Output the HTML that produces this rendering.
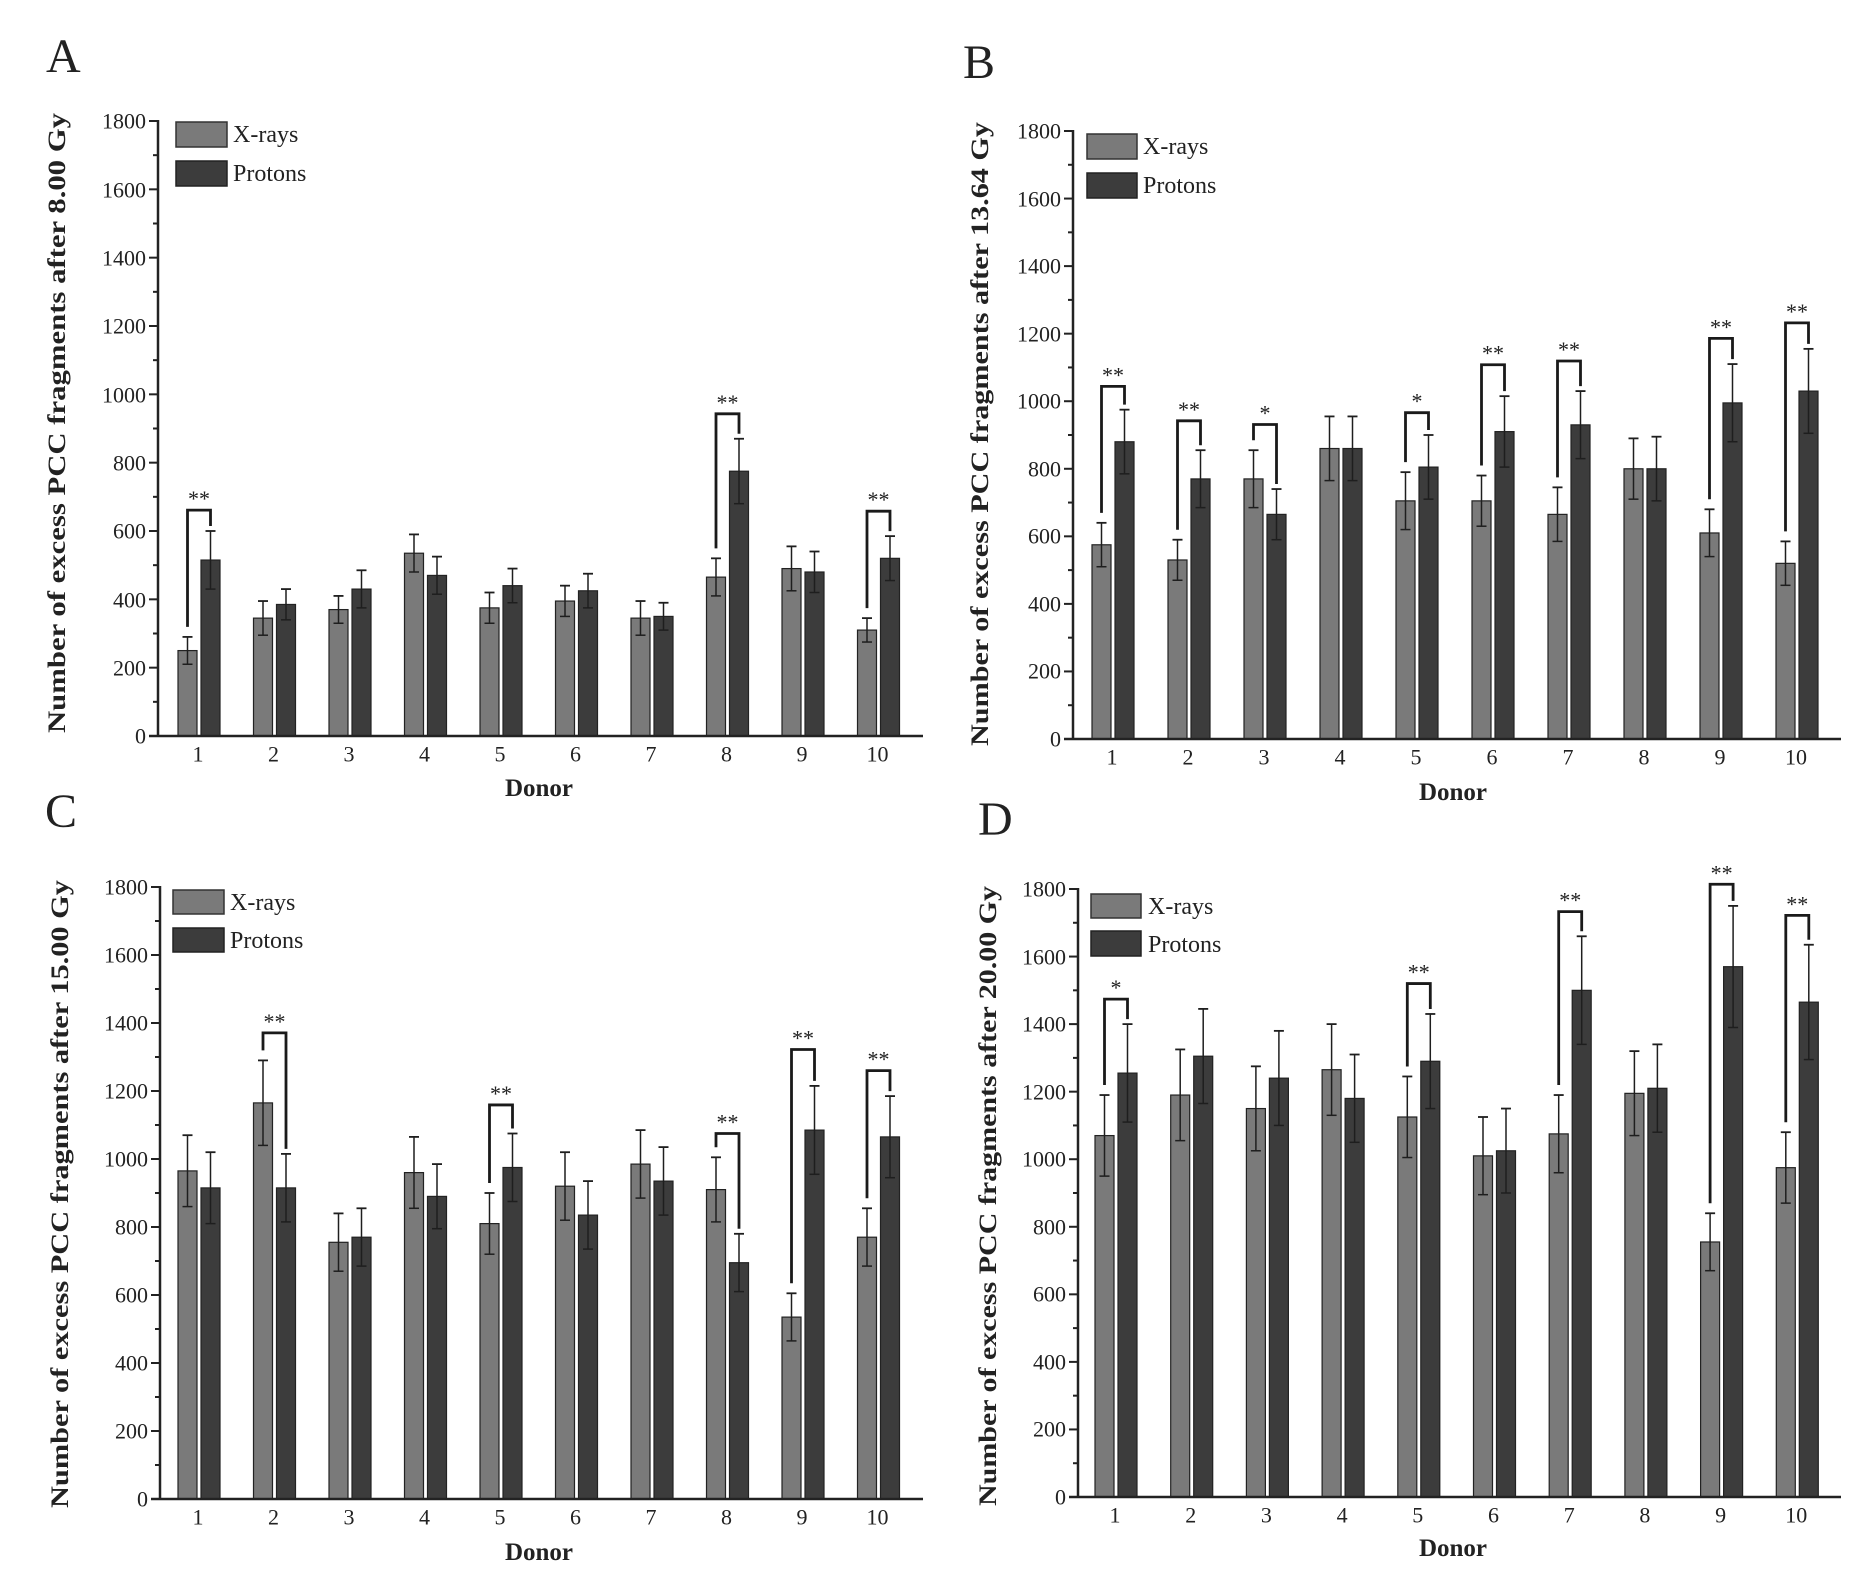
<!DOCTYPE html>
<html><head><meta charset="utf-8"><style>
html,body{margin:0;padding:0;background:#fff}
svg{display:block}
text{font-family:"Liberation Serif",serif;fill:#222}
.t{font-size:22px}
.lab{font-size:25px;font-weight:bold}
.ttl{font-size:48px}
.lg{font-size:24px}
</style></head><body>
<svg id="s" width="1869" height="1591" viewBox="0 0 1869 1591" xmlns="http://www.w3.org/2000/svg">
<g id="g"></g>
<text class="ttl" x="46" y="72">A</text>
<text class="ttl" x="963" y="78">B</text>
<text class="ttl" x="45" y="827">C</text>
<text class="ttl" x="978" y="835">D</text>
<text class="lab" transform="translate(65,423) rotate(-90)" text-anchor="middle" textLength="620" lengthAdjust="spacingAndGlyphs">Number of excess PCC fragments after 8.00 Gy</text>
<text class="lab" transform="translate(988,434) rotate(-90)" text-anchor="middle" textLength="624" lengthAdjust="spacingAndGlyphs">Number of excess PCC fragments after 13.64 Gy</text>
<text class="lab" transform="translate(68,1194) rotate(-90)" text-anchor="middle" textLength="628" lengthAdjust="spacingAndGlyphs">Number of excess PCC fragments after 15.00 Gy</text>
<text class="lab" transform="translate(996,1196) rotate(-90)" text-anchor="middle" textLength="620" lengthAdjust="spacingAndGlyphs">Number of excess PCC fragments after 20.00 Gy</text>
<text class="lab" x="539" y="796" text-anchor="middle">Donor</text>
<text class="lab" x="1453" y="800" text-anchor="middle">Donor</text>
<text class="lab" x="539" y="1560" text-anchor="middle">Donor</text>
<text class="lab" x="1453" y="1556" text-anchor="middle">Donor</text>
<rect x="176" y="122" width="51" height="25" fill="#7a7a7a" stroke="#333" stroke-width="1.5"/>
<rect x="176" y="161" width="51" height="25" fill="#3c3c3c" stroke="#222" stroke-width="1.5"/>
<text class="lg" x="233" y="142">X-rays</text><text class="lg" x="233" y="181">Protons</text>
<rect x="1087" y="134" width="50" height="25" fill="#7a7a7a" stroke="#333" stroke-width="1.5"/>
<rect x="1087" y="173" width="50" height="25" fill="#3c3c3c" stroke="#222" stroke-width="1.5"/>
<text class="lg" x="1143" y="154">X-rays</text><text class="lg" x="1143" y="193">Protons</text>
<rect x="173" y="890" width="51" height="24" fill="#7a7a7a" stroke="#333" stroke-width="1.5"/>
<rect x="173" y="928" width="51" height="24" fill="#3c3c3c" stroke="#222" stroke-width="1.5"/>
<text class="lg" x="230" y="910">X-rays</text><text class="lg" x="230" y="948">Protons</text>
<rect x="1091" y="894" width="50" height="24" fill="#7a7a7a" stroke="#333" stroke-width="1.5"/>
<rect x="1091" y="931" width="50" height="25" fill="#3c3c3c" stroke="#222" stroke-width="1.5"/>
<text class="lg" x="1148" y="914">X-rays</text><text class="lg" x="1148" y="952">Protons</text>
<g class="t" text-anchor="end" dominant-baseline="central">
<text x="146" y="736">0</text><text x="146" y="668">200</text><text x="146" y="600">400</text><text x="146" y="531">600</text><text x="146" y="463">800</text><text x="146" y="395">1000</text><text x="146" y="326">1200</text><text x="146" y="258">1400</text><text x="146" y="190">1600</text><text x="146" y="121">1800</text>
<text x="1061" y="739">0</text><text x="1061" y="671">200</text><text x="1061" y="604">400</text><text x="1061" y="536">600</text><text x="1061" y="469">800</text><text x="1061" y="401">1000</text><text x="1061" y="334">1200</text><text x="1061" y="266">1400</text><text x="1061" y="199">1600</text><text x="1061" y="131">1800</text>
<text x="148" y="1499">0</text><text x="148" y="1431">200</text><text x="148" y="1363">400</text><text x="148" y="1295">600</text><text x="148" y="1227">800</text><text x="148" y="1159">1000</text><text x="148" y="1091">1200</text><text x="148" y="1023">1400</text><text x="148" y="955">1600</text><text x="148" y="887">1800</text>
<text x="1066" y="1497">0</text><text x="1066" y="1429">200</text><text x="1066" y="1362">400</text><text x="1066" y="1294">600</text><text x="1066" y="1227">800</text><text x="1066" y="1159">1000</text><text x="1066" y="1092">1200</text><text x="1066" y="1024">1400</text><text x="1066" y="957">1600</text><text x="1066" y="889">1800</text>
</g>
<g class="t" text-anchor="middle" dominant-baseline="central">
<text x="198" y="754">1</text><text x="273.5" y="754">2</text><text x="349" y="754">3</text><text x="424.5" y="754">4</text><text x="500" y="754">5</text><text x="575.5" y="754">6</text><text x="651" y="754">7</text><text x="726.5" y="754">8</text><text x="802" y="754">9</text><text x="877.5" y="754">10</text>
<text x="1112" y="757">1</text><text x="1188" y="757">2</text><text x="1264" y="757">3</text><text x="1340" y="757">4</text><text x="1416" y="757">5</text><text x="1492" y="757">6</text><text x="1568" y="757">7</text><text x="1644" y="757">8</text><text x="1720" y="757">9</text><text x="1796" y="757">10</text>
<text x="198" y="1517">1</text><text x="273.5" y="1517">2</text><text x="349" y="1517">3</text><text x="424.5" y="1517">4</text><text x="500" y="1517">5</text><text x="575.5" y="1517">6</text><text x="651" y="1517">7</text><text x="726.5" y="1517">8</text><text x="802" y="1517">9</text><text x="877.5" y="1517">10</text>
<text x="1115" y="1515">1</text><text x="1190.7" y="1515">2</text><text x="1266.4" y="1515">3</text><text x="1342.1" y="1515">4</text><text x="1417.8" y="1515">5</text><text x="1493.5" y="1515">6</text><text x="1569.2" y="1515">7</text><text x="1644.9" y="1515">8</text><text x="1720.6" y="1515">9</text><text x="1796.3" y="1515">10</text>
</g>
</svg>
<script>
var NS="http://www.w3.org/2000/svg",G=document.getElementById("g");
function el(n,a){var e=document.createElementNS(NS,n);for(var k in a)e.setAttribute(k,a[k]);G.appendChild(e);return e;}
var P=[
{ax:158,y0:736,y18:121,c1:198,sp:75.5,xe:923,
 d:[[250,40,515,85],[345,50,385,45],[370,40,430,55],[535,55,470,55],[375,45,440,50],[395,45,425,50],[345,50,350,40],[465,55,775,95],[490,65,480,60],[310,35,520,65]],
 b:{1:[661,"**"],8:[943,"**"],10:[658,"**"]}},
{ax:1073,y0:739,y18:131,c1:1112,sp:76,xe:1841,
 d:[[575,65,880,95],[530,60,770,85],[770,85,665,75],[860,95,860,95],[705,85,805,95],[705,75,910,105],[665,80,930,100],[800,90,800,95],[610,70,995,115],[520,65,1030,125]],
 b:{1:[1044,"**"],2:[942,"**"],3:[931,"*"],5:[966,"*"],6:[1108,"**"],7:[1119,"**"],9:[1186,"**"],10:[1232,"**"]}},
{ax:160,y0:1499,y18:887,c1:198,sp:75.5,xe:923,
 d:[[965,105,915,105],[1165,125,915,100],[755,85,770,85],[960,105,890,95],[810,90,975,100],[920,100,835,100],[985,100,935,100],[910,95,695,85],[535,70,1085,130],[770,85,1065,120]],
 b:{2:[1371,"**"],5:[1159,"**"],8:[1075,"**"],9:[1322,"**"],10:[1260,"**"]}},
{ax:1078,y0:1497,y18:889,c1:1115,sp:75.7,xe:1841,
 d:[[1070,120,1255,145],[1190,135,1305,140],[1150,125,1240,140],[1265,135,1180,130],[1125,120,1290,140],[1010,115,1025,125],[1075,115,1500,160],[1195,125,1210,130],[755,85,1570,180],[975,105,1465,170]],
 b:{1:[1474,"*"],5:[1520,"**"],7:[1733,"**"],9:[1814,"**"],10:[1722,"**"]}}
];
P.forEach(function(p){
 var k=(p.y0-p.y18)/1800;function Y(v){return p.y0-v*k;}
 for(var v=0;v<=1800;v+=100){var y=Y(v);el("line",{x1:p.ax-(v%200?5:9),x2:p.ax,y1:y,y2:y,stroke:"#222","stroke-width":2});}
 p.d.forEach(function(r,i){
  var c=p.c1+i*p.sp;
  var bars=[[c-20,r[0],r[1],"#7a7a7a"],[c+3,r[2],r[3],"#3c3c3c"]];
  bars.forEach(function(b){
   el("rect",{x:b[0],y:Y(b[1]),width:19,height:b[1]*k,fill:b[3],stroke:"#222","stroke-width":1.2});
   var cx=b[0]+9.5,t=Y(b[1]+b[2]),bo=Y(b[1]-b[2]);
   el("line",{x1:cx,x2:cx,y1:t,y2:bo,stroke:"#1e1e1e","stroke-width":1.5});
   el("line",{x1:cx-5,x2:cx+5,y1:t,y2:t,stroke:"#1e1e1e","stroke-width":1.8});
   el("line",{x1:cx-5,x2:cx+5,y1:bo,y2:bo,stroke:"#1e1e1e","stroke-width":1.5});
  });
  var bb=p.b[i+1];
  if(bb){var yt=Y(bb[0]),xl=c-10.5,xr=c+12.5;
   var yl=Y(r[0]+r[1])-10,yr=Y(r[2]+r[3])-5;
   el("polyline",{points:xl+","+yl+" "+xl+","+yt+" "+xr+","+yt+" "+xr+","+yr,fill:"none",stroke:"#1a1a1a","stroke-width":2.8});
   var tx=el("text",{x:c+1,y:yt-4,"text-anchor":"middle","font-size":"22px"});tx.textContent=bb[1];}
 });
 el("line",{x1:p.ax,x2:p.ax,y1:p.y18-1,y2:p.y0+1,stroke:"#222","stroke-width":2.5});
 el("line",{x1:p.ax-9,x2:p.xe,y1:p.y0,y2:p.y0,stroke:"#222","stroke-width":2.5});
});
</script>
</body></html>
